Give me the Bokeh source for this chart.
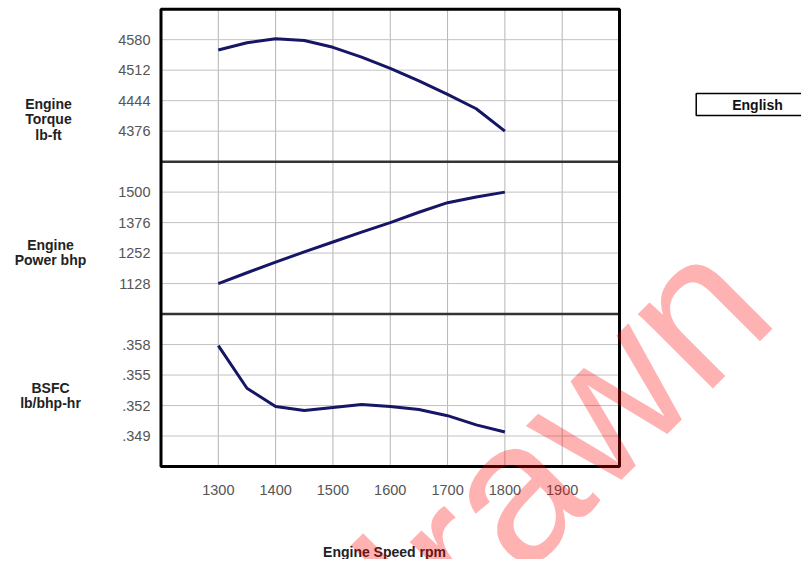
from bokeh.plotting import figure
from bokeh.models import Range1d, Label
from bokeh.core.properties import value
from bokeh.embed import file_html
from bokeh.resources import INLINE

# ---- data ----
rpm = [1300, 1350, 1400, 1450, 1500, 1550, 1600, 1650, 1700, 1750, 1800]
torque = [4557, 4573, 4582, 4578, 4563, 4541, 4516, 4488, 4458, 4426, 4376]
power = [1128, 1172, 1215, 1257, 1297, 1337, 1376, 1418, 1457, 1480, 1500]
bsfc = [0.3579, 0.3537, 0.3519, 0.3515, 0.3518, 0.3521, 0.3519, 0.3516, 0.3510, 0.3501, 0.3494]

x_ticks = [1300, 1400, 1500, 1600, 1700, 1800, 1900]
x_tick_labels = ["1300", "1400", "1500", "1600", "1700", "1800", "1900"]
torque_ticks = [4376, 4444, 4512, 4580]
torque_labels = ["4376", "4444", "4512", "4580"]
power_ticks = [1128, 1252, 1376, 1500]
power_labels = ["1128", "1252", "1376", "1500"]
bsfc_ticks = [0.349, 0.352, 0.355, 0.358]
bsfc_labels = [".349", ".352", ".355", ".358"]

torque_lim = (4308, 4648)
power_lim = (1004, 1624)
bsfc_lim = (0.346, 0.361)
x_lim = (1200, 2000)

# ---- layout (canvas pixels) ----
W, H = 801, 559
BOX_L, BOX_T, BOX_R, BOX_B = 160.5, 8.7, 619.0, 466.0
NPAN, UNITS = 3, 5
TOP = NPAN * UNITS

xs_per_px = (x_lim[1] - x_lim[0]) / (BOX_R - BOX_L)
ys_per_px = TOP / (BOX_B - BOX_T)

def cx(px):
    return x_lim[0] + (px - BOX_L) * xs_per_px

def cy(py):
    return TOP - (py - BOX_T) * ys_per_px

p = figure(width=W, height=H, min_border=0, x_axis_type=None, y_axis_type=None,
           x_range=Range1d(cx(0), cx(W)), y_range=Range1d(cy(H), cy(0)),
           output_backend="svg", toolbar_location=None)
p.outline_line_color = None
p.grid.visible = False
p.background_fill_color = "white"
p.border_fill_color = "white"

Y0, Y1 = p.y_range.start, p.y_range.end

def stacked_range(lim, k):
    lo, hi = lim
    span = hi - lo
    return Range1d(lo + (Y0 - k * UNITS) / UNITS * span, lo + (Y1 - k * UNITS) / UNITS * span)

p.extra_y_ranges = {
    "bsfc": stacked_range(bsfc_lim, 0),
    "power": stacked_range(power_lim, 1),
    "torque": stacked_range(torque_lim, 2),
}

def to_panel(v, lim, k):
    lo, hi = lim
    return k * UNITS + UNITS * (v - lo) / (hi - lo)

ypos, ylab = [], []
for ticks, labels, lim, k in [(bsfc_ticks, bsfc_labels, bsfc_lim, 0),
                               (power_ticks, power_labels, power_lim, 1),
                               (torque_ticks, torque_labels, torque_lim, 2)]:
    for t, l in zip(ticks, labels):
        ypos.append(to_panel(t, lim, k))
        ylab.append(l)

GRID = "#c2c2c2"
# grid lines inside the box
p.segment(x0=x_ticks, x1=x_ticks, y0=[0] * len(x_ticks), y1=[TOP] * len(x_ticks),
          line_color="#b5b5b5", line_width=1)
p.segment(x0=[x_lim[0]] * len(ypos), x1=[x_lim[1]] * len(ypos), y0=ypos, y1=ypos,
          line_color=GRID, line_width=1)

# panel dividers
divs = [k * UNITS for k in range(1, NPAN)]
p.segment(x0=[x_lim[0]] * len(divs), x1=[x_lim[1]] * len(divs), y0=divs, y1=divs,
          line_color="#333333", line_width=2.5)

# series
LC = "#161666"
p.line(rpm, torque, y_range_name="torque", line_color=LC, line_width=3)
p.line(rpm, power, y_range_name="power", line_color=LC, line_width=3)
p.line(rpm, bsfc, y_range_name="bsfc", line_color=LC, line_width=3)

# outer box
p.quad(left=[x_lim[0]], right=[x_lim[1]], bottom=[0], top=[TOP],
       fill_color=None, line_color="black", line_width=3)

# tick labels
TICK_FONT = value("Liberation Sans")
p.text(x=[cx(150)] * len(ypos), y=ypos, text=ylab, text_align="right", text_baseline="middle",
       text_font=TICK_FONT, text_font_size="14.5px", text_color="#555555")
p.text(x=x_ticks, y=[cy(489)] * len(x_ticks), text=x_tick_labels, text_align="center",
       text_baseline="middle", text_font=TICK_FONT, text_font_size="14.5px", text_color="#555555")

# titles
def bold_label(txt, px, py, color="#222222"):
    return Label(x=cx(px), y=cy(py), text=txt, text_align="center", text_baseline="middle",
                 text_font="Liberation Sans", text_font_style="bold", text_font_size="14px",
                 text_color=color, text_line_height=0.95)

p.add_layout(bold_label("Engine Speed rpm", 384, 551))
p.add_layout(bold_label("Engine\nTorque\nlb-ft", 48, 119))
p.add_layout(bold_label("Engine\nPower bhp", 50, 252))
p.add_layout(bold_label("BSFC\nlb/bhp-hr", 50, 395))

# English box
p.add_layout(Label(x=cx(757), y=cy(104), text="English", text_align="center", text_baseline="middle",
                   text_font="Liberation Sans", text_font_style="bold", text_font_size="14px",
                   text_color="#111111", border_line_color="black", border_line_width=1.5,
                   background_fill_color="white", padding=(36, 3)))

# watermark
p.add_layout(Label(x=cx(732), y=cy(270), text="Withdrawn", angle=45, angle_units="deg",
                   text_align="right", text_baseline="alphabetic",
                   text_font="Liberation Sans", text_font_size="200px",
                   text_color="#ff0000", text_alpha=0.3))

open("out.html", "w").write(file_html(p, INLINE))
